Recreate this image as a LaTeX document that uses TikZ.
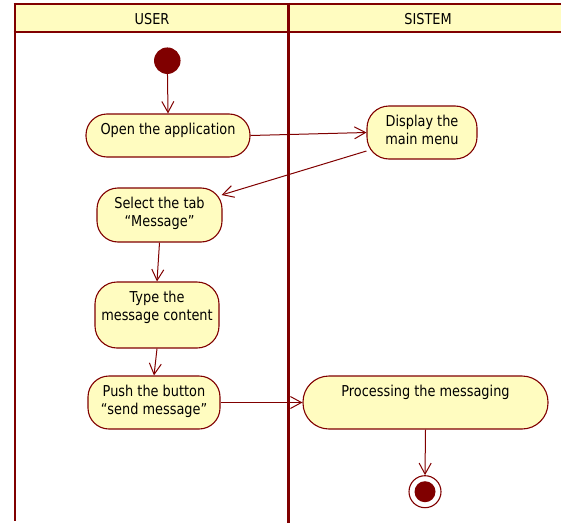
\documentclass[tikz,border=0pt]{standalone}
\usepackage{fontspec}
\setmainfont[FakeStretch=0.86]{DejaVu Sans}
\usetikzlibrary{arrows.meta}
\definecolor{umlred}{RGB}{128,0,0}
\definecolor{umlfill}{RGB}{255,252,192}
% activity label: fixed-size box, text hanging from the top
\newcommand{\actlabel}[3]{\parbox[c][#2pt][t]{#1pt}{\centering\vspace*{9pt}#3}}
\tikzset{
  act/.style={draw=umlred, fill=umlfill, line width=1.1pt, inner sep=0pt,
    rounded corners=#1pt, font=\fontsize{15}{18}\selectfont},
  act/.default=21,
  flow/.style={draw=umlred, line width=1pt, -{Straight Barb[length=11pt,width=12pt]}},
  lane/.style={draw=umlred},
  lanetitle/.style={font=\fontsize{15}{18}\selectfont, inner sep=0pt},
}
\begin{document}
\begin{tikzpicture}[x=1pt,y=-1pt]
\useasboundingbox (0,0) rectangle (561,524);

% swimlanes
\fill[umlfill] (15,4) rectangle (561,32);
\draw[lane, line width=2pt] (13.5,4) -- (561,4);
\draw[lane, line width=2.5pt] (13.5,32) -- (561,32);
\draw[lane, line width=2pt] (14.5,3) -- (14.5,521);
\draw[lane, line width=3pt] (288,3) -- (288,523);
\node[lanetitle] (user) at (152,19) {USER};
\node[lanetitle] (sistem) at (428,19) {SISTEM};

% initial and final states
\node[circle, fill=umlred, inner sep=0pt, minimum size=26.5pt] (start) at (167.3,60.7) {};
\node[circle, draw=umlred, fill=white, line width=1.1pt, inner sep=0pt, minimum size=32pt] (end) at (425,491.7) {};
\fill[umlred] (end.center) circle (10.5pt);

% activities
\node[act] (open) at (168,135.5) {\actlabel{164}{43}{Open the application}};
\node[act=22] (disp) at (422,132.5) {\actlabel{110}{53}{Display the\\main menu}};
\node[act] (sel) at (159.5,215) {\actlabel{125}{54}{Select the tab\\“Message”}};
\node[act=22] (type) at (157,315) {\actlabel{124}{66}{Type the\\message content}};
\node[act] (push) at (154,402.5) {\actlabel{132}{53}{Push the button\\“send message”}};
\node[act=26] (proc) at (425.5,402.5) {\actlabel{245}{53}{Processing the messaging}};

% control flow
\draw[flow] (start) -- (open.north);
\draw[flow] (open.east) -- (disp.west);
\draw[flow] ([yshift=-18.5pt]disp.west) -- ([xshift=-1pt,yshift=20pt]sel.east);
\draw[flow] (sel.south) -- (type.north);
\draw[flow] (type.south) -- (push.north);
\draw[flow] (push.east) -- (proc.west);
\draw[flow] (proc.south) -- (end.north);
\end{tikzpicture}
\end{document}
